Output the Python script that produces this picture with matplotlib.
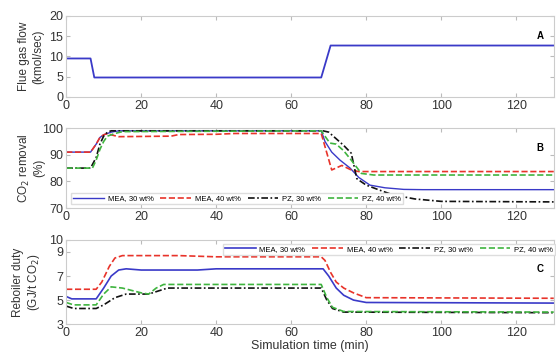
import matplotlib
matplotlib.use('Agg')
import matplotlib.pyplot as plt

plt.rcParams['font.family'] = ['Liberation Sans', 'DejaVu Sans']

# Panel A - flue gas flow (kmol/sec)
flow_t = [0, 6.5, 7.5, 68, 70.5, 130]
flow_v = [9.5, 9.5, 4.8, 4.8, 12.7, 12.7]

# Panel B - CO2 removal (%)
rem_mea30_t = [0, 6.5, 8, 9, 10, 11, 12, 14, 20, 68, 69, 70.8, 73, 75.7, 78, 81, 85, 90, 95, 130]
rem_mea30_v = [91, 91, 94, 96.5, 97.5, 98, 98.5, 99, 99, 99, 95, 91, 88, 85, 81.5, 78.6, 77.6, 77, 76.9, 76.9]
rem_mea40_t = [0, 6.5, 8, 9, 10, 11, 12, 14, 28, 30, 40, 45, 68, 70.8, 73.5, 76, 78, 130]
rem_mea40_v = [91, 91, 94, 96.5, 97.5, 98, 97.5, 96.8, 97, 97.6, 97.7, 98, 98, 84.3, 86, 84.3, 83.7, 83.7]
rem_pz30_t = [0, 6.5, 8, 9, 10, 11, 12, 68.5, 70, 72, 74, 76, 77.5, 80, 84, 87, 93, 100, 130]
rem_pz30_v = [85, 85, 89, 94, 97, 98.5, 99, 99, 98.5, 96, 93.5, 90.6, 81, 78.6, 76.5, 75, 73.4, 72.5, 72.3]
rem_pz40_t = [0, 7, 8, 9, 10, 11, 13, 15, 68, 70.3, 72, 74, 76, 78.7, 82, 130]
rem_pz40_v = [85, 85, 88, 92, 95, 97, 98, 98.7, 99, 94.4, 94, 91.5, 88, 83, 82.4, 82.4]

# Panel C - reboiler duty (GJ/t CO2)
reb_mea30_t = [0, 1.5, 8, 10, 12, 14, 16, 20, 35, 40, 68.5, 70, 72, 74, 76.6, 80, 130]
reb_mea30_v = [5.3, 5.1, 5.1, 6.0, 7.0, 7.5, 7.6, 7.5, 7.5, 7.6, 7.6, 7.0, 6.0, 5.4, 5.0, 4.8, 4.75]
reb_mea40_t = [0, 8, 9.5, 11.5, 13, 15, 30, 40, 68, 69, 70.5, 72, 74, 76.6, 80, 130]
reb_mea40_v = [5.9, 5.9, 6.5, 7.8, 8.5, 8.7, 8.7, 8.6, 8.6, 8.3, 7.3, 6.5, 6.0, 5.6, 5.2, 5.15]
reb_pz30_t = [0, 2, 8, 10, 13, 16, 22, 24, 27, 68, 69.5, 71, 74, 130]
reb_pz30_v = [4.5, 4.3, 4.3, 4.6, 5.2, 5.5, 5.5, 5.7, 6.0, 6.0, 5.0, 4.3, 4.0, 3.95]
reb_pz40_t = [0, 2, 8, 10, 12, 15, 20, 22, 24, 26, 68, 69.5, 71, 74, 130]
reb_pz40_v = [4.8, 4.6, 4.6, 5.5, 6.1, 6.0, 5.6, 5.5, 6.0, 6.3, 6.3, 5.2, 4.4, 4.05, 4.0]

series_labels = ['MEA, 30 wt%', 'MEA, 40 wt%', 'PZ, 30 wt%', 'PZ, 40 wt%']
c_blue, c_red, c_black, c_green = '#3a3ac8', '#e8332a', '#111111', '#3fb43f'
x_ticks = [0, 20, 40, 60, 80, 100, 120]

fig = plt.figure(figsize=(5.56, 3.55), dpi=100)
ax_a = fig.add_axes([0.119, 0.727, 0.877, 0.228])
ax_b = fig.add_axes([0.119, 0.414, 0.877, 0.225])
ax_c = fig.add_axes([0.119, 0.087, 0.877, 0.237])


def style_axes(ax):
    ax.set_xlim(0, 130)
    ax.set_xticks(x_ticks)
    ax.tick_params(direction='in', top=True, right=True, length=3,
                   color='#bbbbbb', labelsize=9, pad=2, labelcolor='#333333')
    for s in ax.spines.values():
        s.set_color('#cccccc')
        s.set_linewidth(0.8)


def add_legend(ax, loc, anchor):
    return ax.legend(loc=loc, bbox_to_anchor=anchor, ncol=4, fontsize=5.5,
                     handlelength=4, columnspacing=0.9, handletextpad=0.5,
                     borderpad=0.25, fancybox=False, framealpha=1, edgecolor='#dddddd')


# A
ax_a.plot(flow_t, flow_v, color=c_blue, lw=1.3)
style_axes(ax_a)
ax_a.set_ylim(0, 20)
ax_a.set_yticks([0, 5, 10, 15, 20])
ax_a.set_ylabel('Flue gas flow\n(kmol/sec)', fontsize=8.5, color='#333333')
ax_a.yaxis.set_label_coords(-0.045, 0.5)
ax_a.text(0.965, 0.72, 'A', transform=ax_a.transAxes, fontsize=7, fontweight='bold')

# B
ax_b.plot(rem_mea30_t, rem_mea30_v, color=c_blue, lw=1.0, ls='-', label=series_labels[0])
ax_b.plot(rem_mea40_t, rem_mea40_v, color=c_red, lw=1.2, ls='--', label=series_labels[1])
ax_b.plot(rem_pz30_t, rem_pz30_v, color=c_black, lw=1.2, ls=(0, (4, 1.5, 1, 1.5)), label=series_labels[2])
ax_b.plot(rem_pz40_t, rem_pz40_v, color=c_green, lw=1.2, ls='--', label=series_labels[3])
style_axes(ax_b)
ax_b.set_ylim(70, 100)
ax_b.set_yticks([70, 80, 90, 100])
ax_b.set_ylabel('CO$_2$ removal\n(%)', fontsize=8.5, color='#333333')
ax_b.yaxis.set_label_coords(-0.042, 0.5)
ax_b.text(0.965, 0.72, 'B', transform=ax_b.transAxes, fontsize=7, fontweight='bold')
add_legend(ax_b, 'lower left', (0.003, 0.0))

# C
ax_c.plot(reb_mea30_t, reb_mea30_v, color=c_blue, lw=1.2, ls='-', label=series_labels[0])
ax_c.plot(reb_mea40_t, reb_mea40_v, color=c_red, lw=1.2, ls='--', label=series_labels[1])
ax_c.plot(reb_pz30_t, reb_pz30_v, color=c_black, lw=1.2, ls=(0, (4, 1.5, 1, 1.5)), label=series_labels[2])
ax_c.plot(reb_pz40_t, reb_pz40_v, color=c_green, lw=1.2, ls='--', label=series_labels[3])
style_axes(ax_c)
ax_c.set_ylim(3, 10)
ax_c.set_yticks([3, 5, 7, 9, 10])
ax_c.set_ylabel('Reboiler duty\n(GJ/t CO$_2$)', fontsize=8.5, color='#333333')
ax_c.yaxis.set_label_coords(-0.050, 0.5)
ax_c.set_xlabel('Simulation time (min)', fontsize=9, color='#333333', labelpad=1)
ax_c.text(0.965, 0.62, 'C', transform=ax_c.transAxes, fontsize=7, fontweight='bold')
add_legend(ax_c, 'upper right', (1.01, 1.0))

fig.savefig('out.png', dpi=100)
